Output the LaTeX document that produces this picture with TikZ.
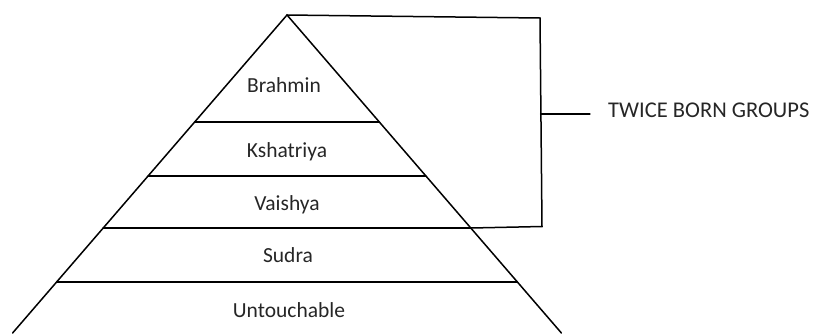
\documentclass[tikz,border=0pt]{standalone}
\usepackage{fontspec}
\setmainfont{Carlito}
\begin{document}
\begin{tikzpicture}[x=1pt,y=-1pt,
  edge/.style={line width=1.5pt,line cap=round},
  lvl/.style={font=\fontsize{21.5}{24}\selectfont,text=black!85,anchor=base,inner sep=0pt},
  side/.style={font=\fontsize{22.5}{26}\selectfont,text=black!85,anchor=base west,inner sep=0pt}]
\useasboundingbox (0,0) rectangle (819,333);
% pyramid
\coordinate (apex) at (287,15);
\coordinate (bl) at (12.6,333);
\coordinate (br) at (561.4,333);
\coordinate (l1) at (194.7,122); \coordinate (r1) at (379.3,122);
\coordinate (l2) at (148.1,176); \coordinate (r2) at (425.9,176);
\coordinate (l3) at (103.2,228); \coordinate (r3) at (470.8,228);
\coordinate (l4) at (56.6,282);  \coordinate (r4) at (517.4,282);
\draw[edge] (bl) -- (apex) -- (br);
\draw[edge] (l1) -- (r1);
\draw[edge] (l2) -- (r2);
\draw[edge] (l3) -- (r3);
\draw[edge] (l4) -- (r4);
% labels
\node[lvl] (brahmin) at (284,92) {Brahmin};
\node[lvl] (kshatriya) at (287,157) {Kshatriya};
\node[lvl] (vaishya) at (287,210) {Vaishya};
\node[lvl] (sudra) at (288,262) {Sudra};
\node[lvl] (untouchable) at (289,317) {Untouchable};
% bracket
\coordinate (bt) at (540,18);
\coordinate (bb) at (542,226.5);
\coordinate (bm) at (540.5,114);
\coordinate (tk) at (590,114);
\draw[edge] (apex) -- (bt) -- (bb) -- (r3);
\draw[edge,line width=1.3pt] (bm) -- (tk);
\node[side] (twice) at (608,117) {TWICE BORN GROUPS};
\end{tikzpicture}
\end{document}
